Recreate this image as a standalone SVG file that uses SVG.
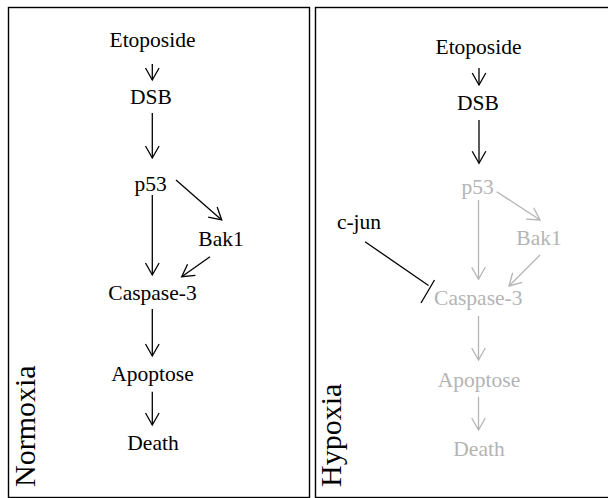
<svg xmlns="http://www.w3.org/2000/svg" width="608" height="498" viewBox="0 0 608 498">
<defs>
<style>
text{font-family:"Liberation Serif","Times New Roman",serif;font-size:21.5px;text-anchor:middle}
.k{fill:#000}
.g{fill:#b4b4b4}
.panel{fill:none;stroke:#000;stroke-width:1.4}
.lk{stroke:#000;stroke-width:1.3;fill:none}
.lg{stroke:#b4b4b4;stroke-width:1.3;fill:none}
.ak{marker-end:url(#ahk)}
.ag{marker-end:url(#ahg)}
.side{font-size:30px;text-anchor:start}
</style>
<marker id="ahk" markerUnits="userSpaceOnUse" viewBox="-14 -9 16 18" refX="0" refY="0" markerWidth="16" markerHeight="18" orient="auto" overflow="visible">
<path d="M-12,-6.8 L0,0 L-12,6.8" fill="none" stroke="#000" stroke-width="1.3"/>
</marker>
<marker id="ahg" markerUnits="userSpaceOnUse" viewBox="-14 -9 16 18" refX="0" refY="0" markerWidth="16" markerHeight="18" orient="auto" overflow="visible">
<path d="M-12,-6.8 L0,0 L-12,6.8" fill="none" stroke="#b4b4b4" stroke-width="1.3"/>
</marker>
</defs>
<rect x="0" y="0" width="608" height="498" fill="#fff"/>

<g id="panel-normoxia">
<rect class="panel" x="8.5" y="7.5" width="301" height="490"/>
<text class="k side" transform="translate(35,487) rotate(-90)">Normoxia</text>
</g>
<g id="panel-hypoxia">
<rect class="panel" x="315.5" y="7.5" width="300" height="490"/>
<text class="k side" transform="translate(341,487) rotate(-90)">Hypoxia</text>
</g>

<g id="connectors">
<line class="lk ak" x1="152.3" y1="64" x2="152.3" y2="80"/>
<line class="lk ak" x1="152.3" y1="113" x2="152.3" y2="158"/>
<line class="lk ak" x1="152.3" y1="195" x2="152.3" y2="275"/>
<line class="lk ak" x1="176" y1="180" x2="221.7" y2="220"/>
<line class="lk ak" x1="210" y1="256.7" x2="181.7" y2="276.7"/>
<line class="lk ak" x1="152.3" y1="309" x2="152.3" y2="356"/>
<line class="lk ak" x1="152.3" y1="391.7" x2="152.3" y2="425"/>

<line class="lk ak" x1="479" y1="68" x2="479" y2="85"/>
<line class="lk ak" x1="479" y1="120" x2="479" y2="163.3"/>
<line class="lg ag" x1="478.5" y1="200" x2="478.5" y2="279.3"/>
<line class="lg ag" x1="496.7" y1="191.7" x2="540" y2="220"/>
<line class="lg ag" x1="540" y1="255" x2="509" y2="286"/>
<line class="lg ag" x1="478.5" y1="316" x2="478.5" y2="360"/>
<line class="lg ag" x1="478.5" y1="396.7" x2="478.5" y2="430"/>
<line class="lk" x1="365" y1="241.7" x2="428.5" y2="285.5"/>
<line class="lk" x1="434.5" y1="280" x2="421" y2="303"/>
</g>

<g id="n-etoposide-l"><text class="k" x="152.5" y="47">Etoposide</text></g>
<g id="n-dsb-l"><text class="k" x="151" y="103.5">DSB</text></g>
<g id="n-p53-l"><text class="k" x="150.5" y="191">p53</text></g>
<g id="n-bak1-l"><text class="k" x="221" y="246">Bak1</text></g>
<g id="n-caspase-l"><text class="k" x="152.5" y="299.5">Caspase-3</text></g>
<g id="n-apoptose-l"><text class="k" x="152.5" y="381">Apoptose</text></g>
<g id="n-death-l"><text class="k" x="153" y="449.5">Death</text></g>

<g id="n-etoposide-r"><text class="k" x="478.5" y="53.5">Etoposide</text></g>
<g id="n-dsb-r"><text class="k" x="478" y="110">DSB</text></g>
<g id="n-p53-r"><text class="g" x="477.5" y="193.5">p53</text></g>
<g id="n-bak1-r"><text class="g" x="539" y="245">Bak1</text></g>
<g id="n-cjun-r"><text class="k" x="359" y="229">c-jun</text></g>
<g id="n-caspase-r"><text class="g" x="478.3" y="305">Caspase-3</text></g>
<g id="n-apoptose-r"><text class="g" x="479" y="387">Apoptose</text></g>
<g id="n-death-r"><text class="g" x="479" y="456">Death</text></g>
</svg>
